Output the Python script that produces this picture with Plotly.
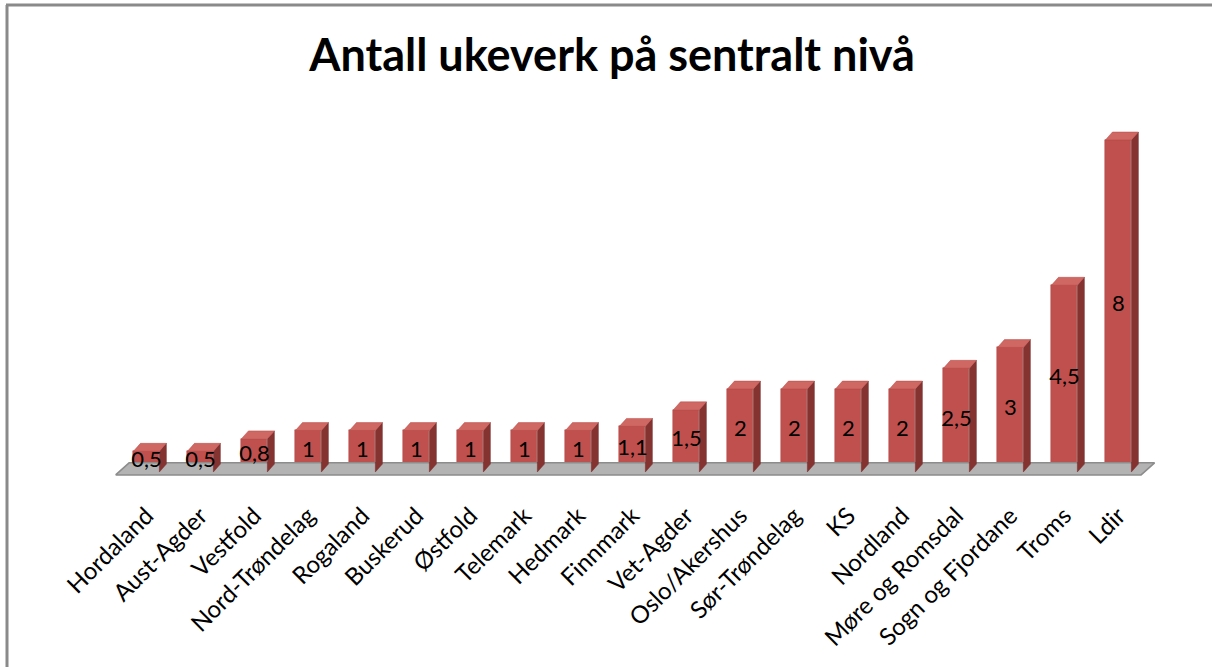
import plotly.graph_objects as go

categories = ["Hordaland", "Aust-Agder", "Vestfold", "Nord-Trøndelag", "Rogaland",
              "Buskerud", "Østfold", "Telemark", "Hedmark", "Finnmark", "Vet-Agder",
              "Oslo/Akershus", "Sør-Trøndelag", "KS", "Nordland", "Møre og Romsdal",
              "Sogn og Fjordane", "Troms", "Ldir"]
values = [0.5, 0.5, 0.8, 1, 1, 1, 1, 1, 1, 1.1, 1.5, 2, 2, 2, 2, 2.5, 3, 4.5, 8]
labels = [("%g" % v).replace(".", ",") for v in values]

W, H = 1212, 667
L, R, T, B = 114, 1167, 115, 480
xr = [-0.6, 18.9]
yr = [-0.193, 8.6]

w = 0.48   # front face width (x units)
dx = 0.13  # depth offset x
dy = 0.19  # depth offset y

n = len(categories)
xs = list(range(n))

fig = go.Figure()

# floor
fx0, fx1 = -0.57, n - 1 + 0.42
fdx, fdy, fy0 = 0.25, 0.29, -0.07
fig.add_trace(go.Scatter(
    x=[fx0, fx1, fx1 + fdx, fx0 + fdx, fx0],
    y=[fy0, fy0, fy0 + fdy, fy0 + fdy, fy0],
    mode="lines", fill="toself", fillcolor="#b3b3b3",
    line=dict(color="#8c8c8c", width=1.5), hoverinfo="skip", showlegend=False))

# side faces
sx, sy = [], []
for i, v in zip(xs, values):
    a = i + w / 2
    sx += [a, a + dx, a + dx, a, a, None]
    sy += [0, dy, v + dy, v, 0, None]
fig.add_trace(go.Scatter(x=sx, y=sy, mode="lines", fill="toself",
                         fillcolor="#843330", line=dict(color="#7a2d2a", width=0.5),
                         hoverinfo="skip", showlegend=False))
# top faces
tx, ty = [], []
for i, v in zip(xs, values):
    a, b = i - w / 2, i + w / 2
    tx += [a, b, b + dx, a + dx, a, None]
    ty += [v, v, v + dy, v + dy, v, None]
fig.add_trace(go.Scatter(x=tx, y=ty, mode="lines", fill="toself",
                         fillcolor="#cf6763", line=dict(color="#b84a46", width=0.5),
                         hoverinfo="skip", showlegend=False))
# front faces
fig.add_trace(go.Bar(x=xs, y=values, width=w, marker=dict(color="#c0504d",
                     line=dict(color="#a94441", width=0.5)), showlegend=False))

# data labels
fig.add_trace(go.Scatter(x=xs, y=[v / 2 for v in values], mode="text", text=labels,
                         textfont=dict(family="Lato", size=22, color="black"),
                         textposition="middle center", showlegend=False, hoverinfo="skip"))

def px_x(p):
    return (p - L) / (R - L)

def px_y(p):
    return (B - p) / (B - T)

fig.update_layout(
    width=W, height=H,
    margin=dict(l=L, r=W - R, t=T, b=H - B, autoexpand=False),
    paper_bgcolor="white", plot_bgcolor="white",
    title=dict(text="<b>Antall ukeverk på sentralt nivå</b>", x=0.505, xanchor="center",
               y=1 - 55 / H, yanchor="middle",
               font=dict(family="Lato", size=45, color="black")),
    xaxis=dict(range=xr, tickmode="array", tickvals=xs, ticktext=categories,
               tickangle=-45, showgrid=False, zeroline=False, showline=False,
               tickfont=dict(family="Lato", size=24, color="black"),
               ticks="", ticklabelstandoff=16, automargin=False),
    yaxis=dict(range=yr, visible=False),
    bargap=0,
    shapes=[
        dict(type="line", xref="paper", yref="paper", x0=px_x(7), x1=px_x(7),
             y0=px_y(5), y1=px_y(H + 5), line=dict(color="#8a8a8a", width=3)),
        dict(type="line", xref="paper", yref="paper", x0=px_x(6), x1=px_x(W + 5),
             y0=px_y(5), y1=px_y(5), line=dict(color="#8a8a8a", width=3)),
    ],
)

fig.write_html("out.html", config={"displayModeBar": False},
               post_script="document.body.style.margin='0';document.body.style.overflow='hidden';")
